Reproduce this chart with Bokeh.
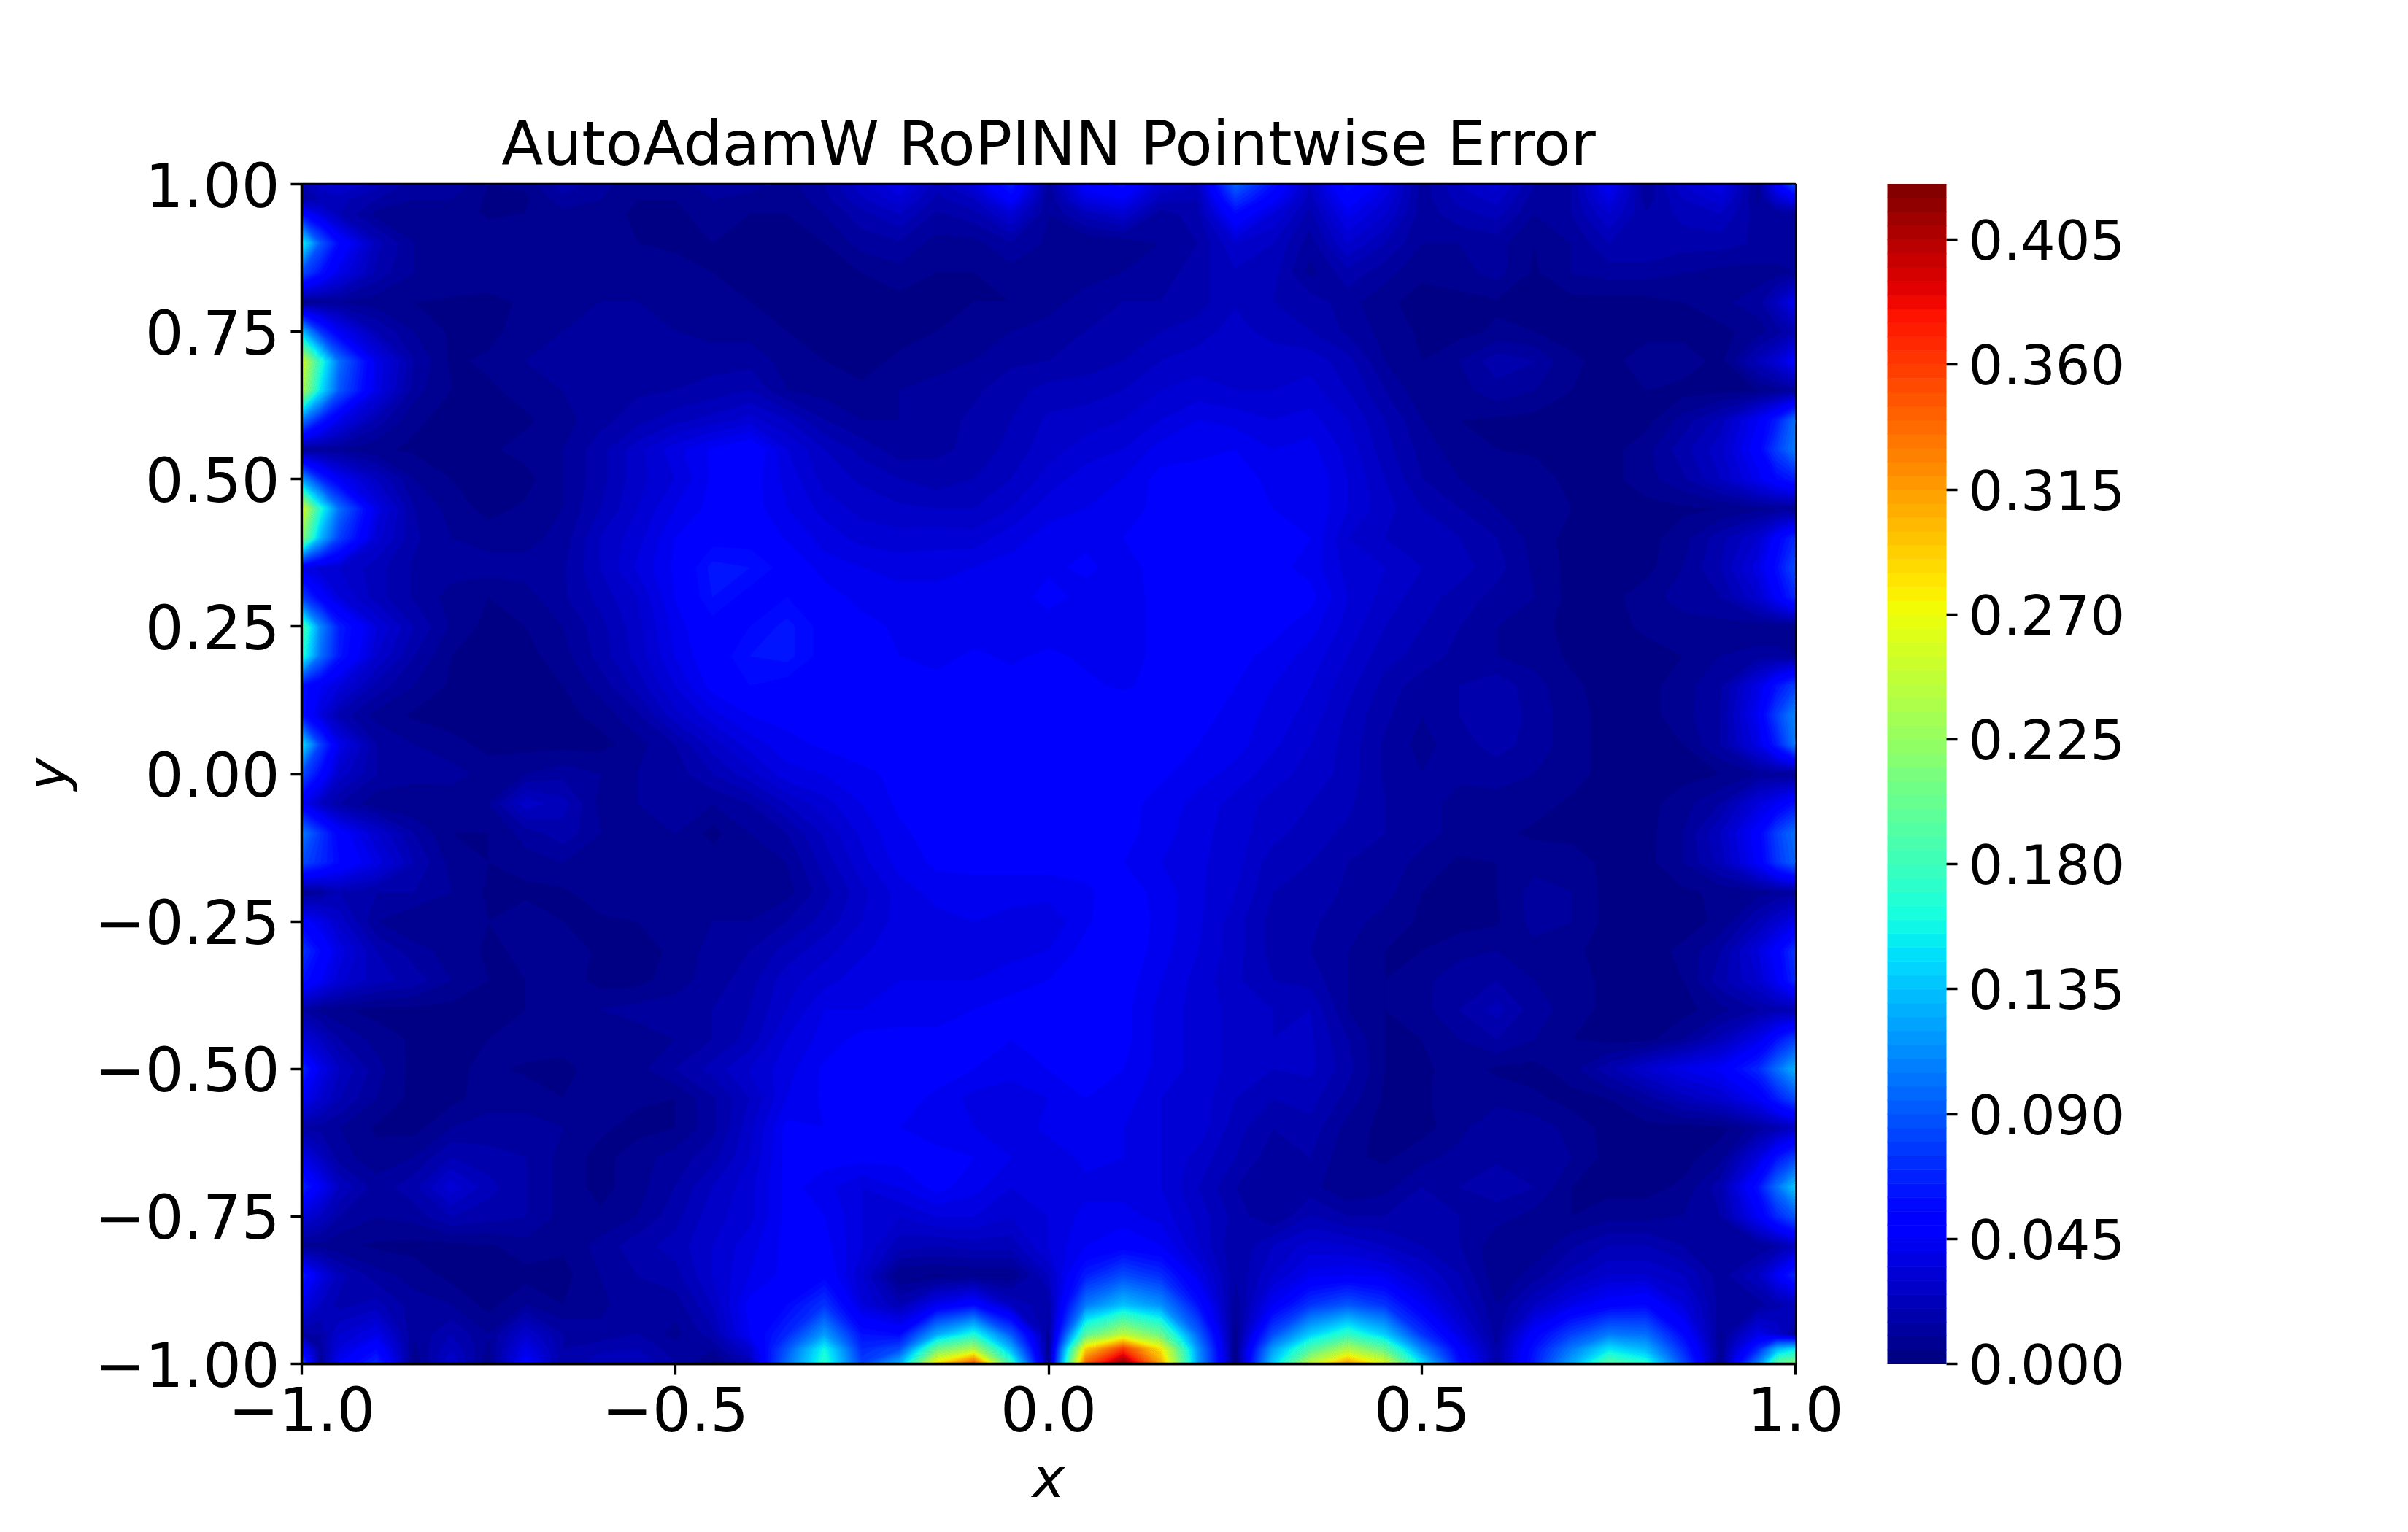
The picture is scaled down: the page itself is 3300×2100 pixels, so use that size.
import numpy as np
from bokeh.embed import file_html
from bokeh.models import FixedTicker, PrintfTickFormatter, Range1d
from bokeh.plotting import figure
from bokeh.resources import INLINE

title_text = "AutoAdamW RoPINN Pointwise Error"
x_ticks = [-1.0, -0.5, 0.0, 0.5, 1.0]
x_tick_labels = ["\u22121.0", "\u22120.5", "0.0", "0.5", "1.0"]
y_ticks = [-1.0, -0.75, -0.5, -0.25, 0.0, 0.25, 0.5, 0.75, 1.0]
y_tick_labels = ["\u22121.00", "\u22120.75", "\u22120.50", "\u22120.25", "0.00", "0.25", "0.50", "0.75", "1.00"]
bar_ticks = [0.0, 0.045, 0.09, 0.135, 0.18, 0.225, 0.27, 0.315, 0.36, 0.405]
level_count = 86
level_step = 0.005

# sample positions of the error field
x_samples = [-1, -.975, -.95, -.9, -.85, -.8, -.75, -.7, -.65, -.6, -.55, -.5, -.45, -.4,
             -.35, -.3, -.25, -.2, -.15, -.1, -.05, 0, .05, .1, .15, .2, .25, .3,
             .35, .4, .45, .5, .55, .6, .65, .7, .75, .8, .85, .9, .95, .975, 1]
y_samples = [1, .975, .95, .9, .85, .8, .75, .7, .65, .6, .55, .5, .45, .4, .35, .3, .25, .2, .15, .1, .05, 0,
             -.05, -.1, -.15, -.2, -.25, -.3, -.35, -.4, -.45, -.5, -.55, -.6, -.65, -.7, -.75, -.8, -.85, -.9,
             -.95, -.975, -1]
# pointwise error in thousandths, one row per y sample, top row first
error_rows = [
 [18,28,32,22,12,14,5,6,18,12,6,6,15,12, 8,15,28,40,22,35,65,12,50,58,30,25,95,60, 25,60,40,12,25,32,15,15,45,10,30,40,8,50,85],
 [12,20,22,15,10,10,4,4,13,10,5,5,10,8, 6,13,24,33,18,25,50,10,38,45,22,20,75,48, 22,50,35,12,22,27,12,15,38,12,25,33,8,30,45],
 [55,35,20,8,6,8,4,5,8,7,4,4,7,5, 5,10,18,25,14,18,32,10,22,30,12,18,55,35, 18,42,30,12,18,22,10,15,30,15,22,25,12,10,10],
 [160,90,55,22,10,10,9,9,9,8,5,4,5,4, 4,5,12,14,8,8,14,9,5,6,10,15,30,25, 12,30,20,10,10,12,5,10,20,20,17,17,14,14,15],
 [85,60,40,18,10,9,9,9,10,8,8,7,5,3, 3,3,5,8,5,5,8,8,8,10,12,18,24,22, 8,18,12,6,8,12,4,10,12,12,10,8,8,8,10],
 [5,8,10,7,5,4,3,6,8,10,10,8,8,5, 3,3,3,3,4,5,5,8,12,15,15,18,24,20, 18,12,6,3,3,4,3,3,3,3,5,9,12,25,42],
 [135,75,45,20,10,4,3,8,10,13,12,10,8,8, 5,3,3,3,5,6,10,12,15,18,20,22,28,22, 20,14,8,4,3,6,5,3,3,3,3,3,8,12,20],
 [260,170,100,40,15,4,6,10,13,14,14,14,13,13, 8,5,3,6,8,10,14,15,18,20,25,28,30,30, 28,22,10,5,10,18,15,6,3,8,8,3,22,32,50],
 [240,150,90,38,12,5,4,7,10,12,14,15,17,20, 10,8,6,10,12,14,18,22,22,25,30,32,30,30, 32,25,15,6,8,13,10,5,3,5,3,3,5,8,12],
 [105,65,40,18,6,3,4,4,8,13,18,23,27,32, 25,15,10,10,13,16,20,26,28,30,35,40,38,35, 37,30,20,10,5,4,3,3,3,3,12,22,45,65,100],
 [8,10,10,6,4,5,4,7,10,18,28,38,46,52, 35,25,18,12,14,16,22,28,32,35,42,42,45,40, 42,33,22,13,7,5,4,3,3,8,18,28,50,80,105],
 [120,70,45,25,10,5,4,3,10,18,28,35,46,48, 38,28,24,20,17,20,25,32,38,40,47,50,50,42, 45,35,25,15,10,8,8,3,3,8,14,25,42,55,65],
 [265,165,100,38,15,8,3,6,10,20,30,40,47,48, 40,33,28,26,25,25,30,38,40,42,47,48,48,45, 45,35,27,20,15,10,8,5,3,3,4,5,8,9,8],
 [220,130,80,32,16,10,8,8,12,25,33,45,52,52, 44,38,33,32,33,32,38,42,44,45,48,50,50,47, 45,30,25,25,20,15,8,3,3,3,8,18,30,50,70],
 [40,32,30,22,14,12,12,12,14,25,36,46,62,60, 52,42,40,38,38,40,42,44,46,43,47,50,50,47, 43,33,30,25,22,17,9,3,3,3,10,20,38,58,85],
 [80,50,35,22,14,8,5,8,14,22,30,45,60,52, 55,48,43,42,42,42,42,47,43,42,47,47,47,47, 47,35,28,22,18,13,10,3,3,8,12,15,30,48,70],
 [190,110,65,35,20,9,3,5,10,18,28,42,52,55, 62,52,47,44,42,42,42,42,42,42,47,48,48,47, 42,33,25,20,15,10,7,3,3,6,8,8,6,6,5],
 [170,100,62,30,15,5,3,3,8,17,27,40,50,60, 62,52,47,45,43,46,44,46,44,42,47,48,47,43, 38,30,22,18,13,10,8,4,3,3,5,10,12,12,10],
 [60,45,35,18,10,4,3,3,5,12,22,35,47,55, 52,47,47,47,47,47,47,47,46,44,47,48,45,40, 35,27,18,12,15,18,12,6,3,3,8,14,38,60,80],
 [60,35,18,8,4,2,2,3,3,7,14,28,38,45, 47,47,47,48,48,50,48,48,48,50,52,47,43,38, 33,24,16,10,15,19,13,7,3,3,8,15,45,80,110],
 [150,80,40,15,10,7,3,3,3,3,8,15,27,37, 43,46,47,47,47,48,48,48,48,48,47,45,42,36, 30,23,14,8,13,17,13,7,3,3,5,15,38,65,105],
 [85,55,28,15,12,12,8,10,13,10,10,12,20,28, 38,40,44,46,47,48,50,48,48,47,46,42,38,32, 28,23,14,10,11,12,10,7,3,3,3,5,10,10,8],
 [45,25,15,6,5,6,10,28,22,8,10,12,10,15, 25,33,40,46,46,52,52,48,48,47,43,38,33,28, 25,21,15,12,8,8,7,4,3,3,8,15,35,45,60],
 [105,75,50,30,15,5,5,12,18,10,10,10,3,10, 15,26,36,44,47,52,48,48,48,47,42,37,32,27, 22,19,15,12,8,6,4,3,3,3,10,25,50,80,100],
 [85,70,55,38,20,8,5,8,10,10,10,10,8,10, 10,22,33,42,46,47,47,47,47,45,40,36,32,22, 20,15,13,8,4,5,8,8,3,3,10,22,47,75,95],
 [8,12,20,15,15,10,4,3,4,8,10,10,10,10, 8,18,28,37,42,42,42,42,44,48,43,36,30,20, 18,14,12,5,3,5,12,10,3,3,4,6,8,10,12],
 [50,40,28,10,5,6,5,10,5,4,5,10,10,10, 15,22,30,37,38,40,38,36,44,50,43,36,27,18, 16,12,8,4,3,4,12,10,3,3,3,6,20,30,40],
 [75,55,38,20,12,8,4,6,10,3,3,6,12,15, 22,28,34,38,38,38,38,40,47,50,42,35,27,18, 15,10,5,5,8,10,8,6,3,3,6,15,35,50,75],
 [60,45,32,22,18,10,5,5,8,3,3,8,12,18, 28,33,38,40,40,40,43,45,48,48,40,33,26,20, 18,10,5,8,14,15,10,8,3,3,5,18,30,45,70],
 [15,8,6,3,3,3,3,5,8,10,12,12,15,20, 30,40,40,42,42,45,47,48,50,47,38,33,28,25, 25,10,5,8,15,22,12,8,3,3,3,8,15,18,18],
 [35,25,15,8,4,3,5,8,8,8,7,10,15,22, 35,42,47,47,47,47,45,47,50,47,38,33,28,25, 26,15,5,5,10,15,10,5,3,3,10,22,40,60,80],
 [70,40,25,12,3,4,6,4,3,8,8,15,22,30, 38,46,50,52,47,45,43,45,48,45,38,33,28,25, 26,17,5,4,7,4,3,8,18,30,40,47,70,100,130],
 [45,30,20,10,3,3,8,8,5,8,6,5,14,25, 40,46,48,47,44,38,35,40,45,43,35,33,25,20, 22,13,4,4,8,8,6,3,5,12,22,30,45,65,85],
 [15,13,10,4,3,10,12,12,10,6,3,5,13,28, 47,45,47,45,42,40,35,42,42,40,35,33,22,15, 18,8,3,3,8,15,13,8,3,3,3,3,12,18,25],
 [40,25,12,7,10,20,17,15,8,3,8,12,18,30, 47,47,47,47,47,45,40,35,42,40,35,28,20,12, 15,6,4,8,12,14,14,10,3,3,3,8,35,60,80],
 [68,45,25,12,18,33,22,15,8,3,8,15,25,33, 47,42,35,40,47,42,35,38,38,38,35,25,15,10, 12,5,8,15,15,18,15,5,3,3,6,18,60,100,140],
 [35,25,15,10,12,20,17,15,8,6,10,18,28,33, 47,45,35,30,35,35,30,35,42,42,38,28,18,10, 20,15,15,17,15,12,8,5,8,8,10,15,45,70,90],
 [8,8,6,4,3,3,4,8,6,12,18,22,30,38, 47,47,35,22,20,22,22,35,45,50,45,30,15,25, 32,30,25,20,15,6,6,14,20,20,15,10,10,15,25],
 [65,38,22,12,8,3,3,3,3,10,15,18,30,40, 47,52,30,5,4,5,5,25,65,85,72,40,15,30, 42,45,42,30,20,6,12,22,30,30,25,12,25,45,70],
 [40,25,18,22,12,10,3,10,5,8,15,12,25,47, 55,75,35,20,42,55,25,15,105,135,115,60,10,45, 75,90,75,45,25,10,25,40,50,55,35,12,12,18,22],
 [15,15,30,40,10,20,10,30,15,12,15,8,18,45, 70,120,60,55,125,165,90,8,195,245,205,95,5,85, 140,175,140,75,38,12,50,80,105,100,55,8,40,30,12],
 [50,12,35,55,8,25,8,40,15,18,20,12,10,30, 90,160,70,85,205,240,130,5,290,360,280,115,3,120, 190,240,200,110,50,15,60,105,150,130,70,8,70,130,150],
 [85,10,45,70,5,30,5,50,15,25,25,15,3,20, 100,170,80,130,285,352,180,5,345,423,310,120,3,140, 250,315,265,150,60,15,65,125,195,170,85,5,110,200,220],
]


def jet(t):
    t = np.floor(np.asarray(t) * 255.999) / 255
    r = np.interp(t, [0, .35, .66, .89, 1], [0, 0, 1, 1, .5])
    g = np.interp(t, [0, .125, .375, .64, .91, 1], [0, 0, 1, 1, 0, 0])
    b = np.interp(t, [0, .11, .34, .65, 1], [.5, 1, 1, 0, 0])
    return ["#%02x%02x%02x" % (int(a * 255), int(c * 255), int(d * 255)) for a, c, d in zip(r, g, b)]


levels = [i * level_step for i in range(level_count)]
top = levels[-1]
band_mids = [(a + c) / 2 / top for a, c in zip(levels[:-1], levels[1:])]
fill_colors = jet(band_mids)
line_colors = fill_colors + [fill_colors[-1]]

X = np.array(x_samples, dtype=float)
Y = np.array(y_samples, dtype=float)[::-1]
Z = np.array(error_rows, dtype=float)[::-1] / 1000.0

FONT = "DejaVu Sans"
p = figure(frame_width=2047, frame_height=1617, min_border_left=413, min_border_right=824,
           min_border_top=252, min_border_bottom=215, output_backend="svg", toolbar_location=None,
           x_range=Range1d(-1, 1), y_range=Range1d(-1, 1), title=title_text)
p.grid.visible = False
p.background_fill_color = "#0000ff"
p.outline_line_color = "black"
p.outline_line_width = 3.33
p.title.align = "center"
p.title.text_font = FONT
p.title.text_font_size = "83.5px"
p.title.text_font_style = "normal"
p.title.text_color = "black"
p.title.standoff = 14

contours = p.contour(X, Y, Z, levels, fill_color=fill_colors, line_color=line_colors, line_width=1)

for ax, ticks, labels, name in ((p.xaxis[0], x_ticks, x_tick_labels, "x"), (p.yaxis[0], y_ticks, y_tick_labels, "y")):
    ax.ticker = FixedTicker(ticks=ticks)
    ax.major_label_overrides = dict(zip(ticks, labels))
    ax.minor_tick_line_color = None
    ax.major_tick_in = 0
    ax.major_tick_out = 15
    ax.major_tick_line_width = 3.33
    ax.major_tick_line_color = "black"
    ax.axis_line_width = 3.33
    ax.axis_line_color = "black"
    ax.major_label_text_font = FONT
    ax.major_label_text_font_size = "83px"
    ax.major_label_text_color = "black"
    ax.major_label_standoff = 15
    ax.axis_label = name
    ax.axis_label_text_font = FONT
    ax.axis_label_text_font_style = "italic"
    ax.axis_label_text_font_size = "75px"
    ax.axis_label_text_color = "black"
    ax.axis_label_standoff = 17
p.yaxis[0].major_label_orientation = "horizontal"

bar = contours.construct_color_bar(
    location=(2173, 0), width=81, height=1617, padding=0, margin=0,
    formatter=PrintfTickFormatter(format="%.3f"),
    major_label_text_font=FONT, major_label_text_font_size="75px", major_label_text_color="black",
    major_tick_in=0, major_tick_out=15, major_tick_line_color="black", major_tick_line_width=3.33,
    minor_tick_line_color=None, bar_line_color="black", bar_line_width=3.33, label_standoff=15,
    background_fill_color=None, border_line_color=None,
)
bar.ticker = FixedTicker(ticks=bar_ticks)
p.add_layout(bar)

open("out.html", "w").write(file_html(p, INLINE))
